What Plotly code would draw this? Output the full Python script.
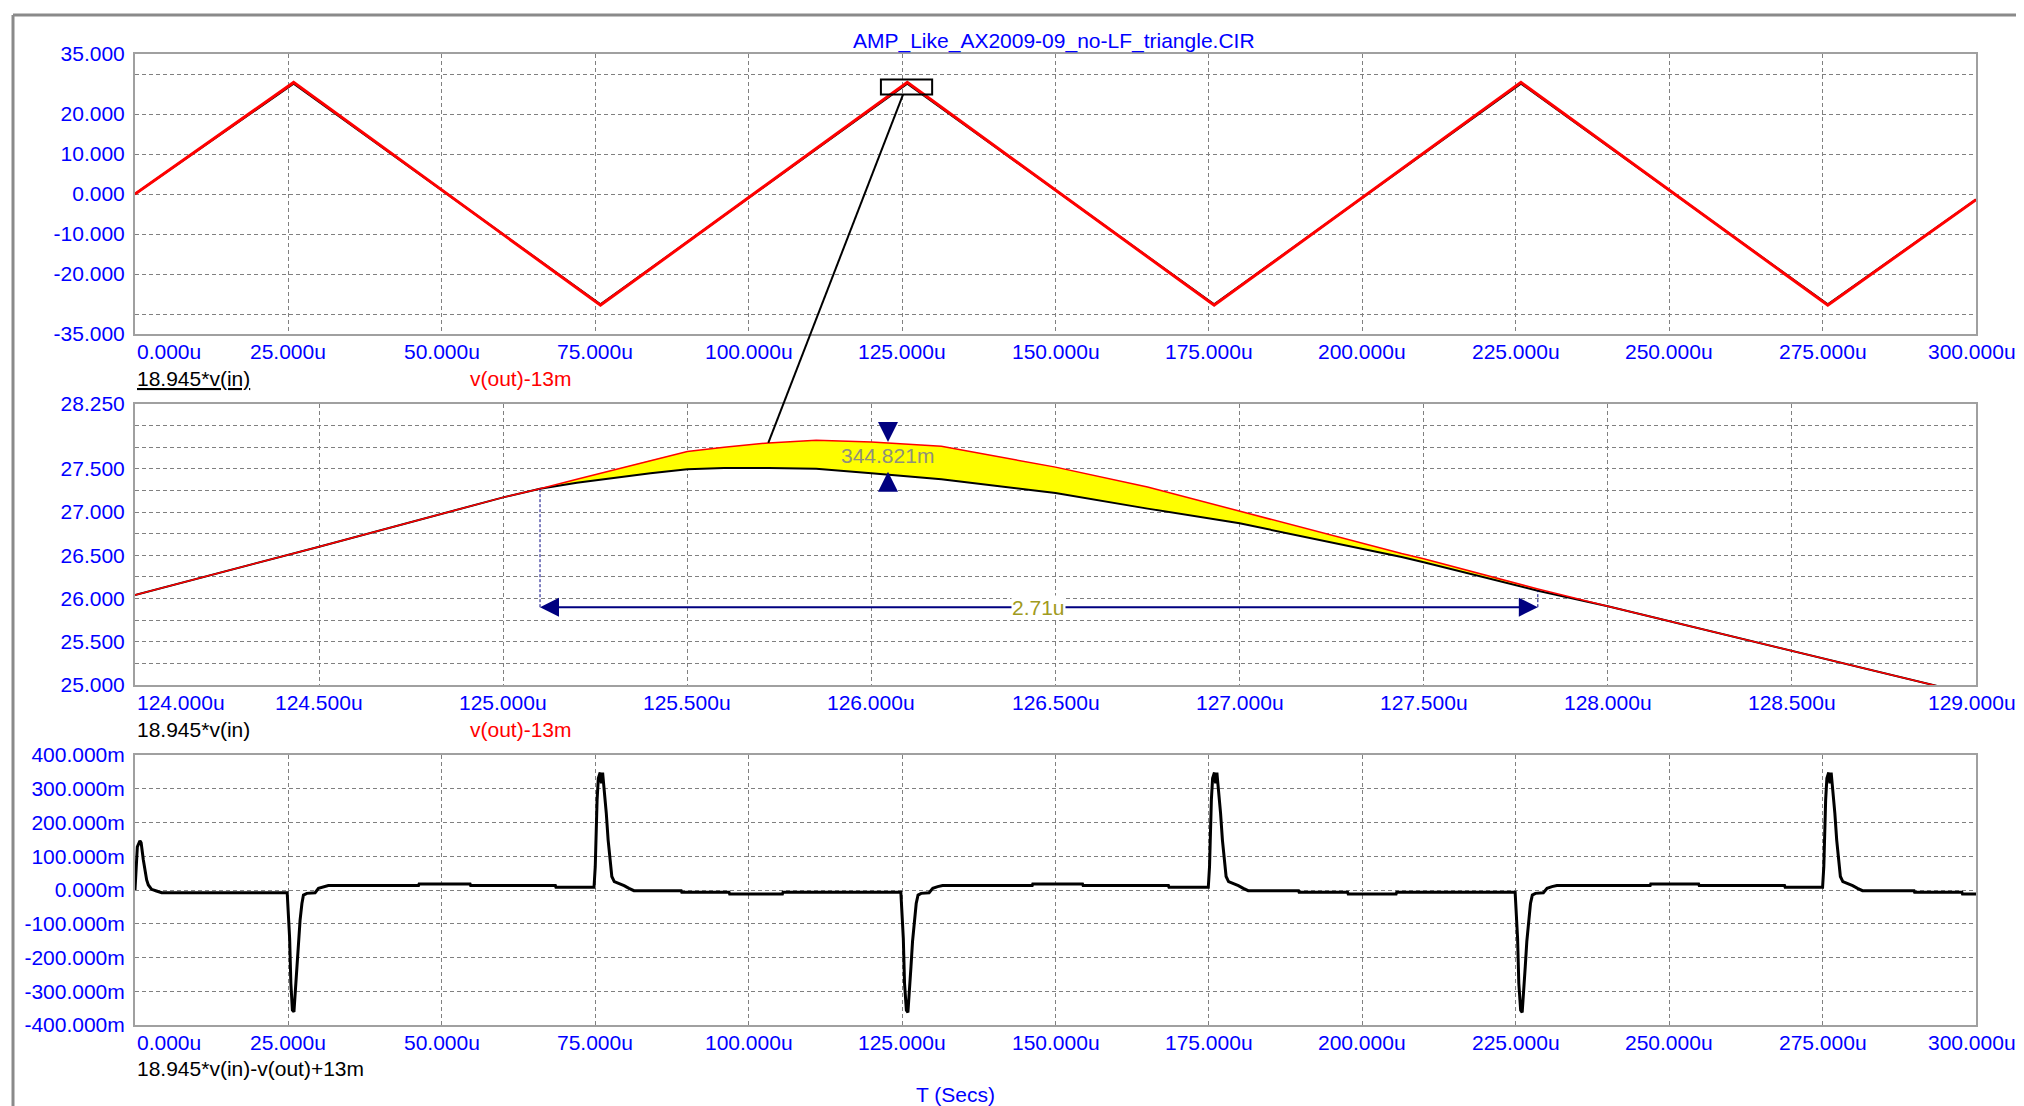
"""
plot.py - rebuild of a SPICE transient plot (triangle drive, error signal) with Plotly.
"""
import plotly.graph_objects as go

# ---------------- values read off the capture (time in us) ----------------
# top pane: 18.945*v(in) and v(out)-13m, 0..300u
TOP_T = [0, 25.85, 75.85, 125.85, 175.85, 225.85, 275.85, 300]
TOP_VIN = [0, 27.6, -27.6, 27.6, -27.6, 27.6, -27.6, -1.4]
TOP_VOUT = [0, 27.9, -27.8, 27.9, -27.8, 27.9, -27.8, -1.4]

# middle pane: zoom on the peak near 125u
MID_T = [124.0, 124.5, 125.0, 125.1, 125.2, 125.33, 125.4, 125.5, 125.6, 125.72, 125.85,
         126.0, 126.19, 126.5, 126.75, 127.0, 127.23, 127.44, 127.5, 127.81, 128.0,
         128.5, 128.886, 129.0]
MID_VIN = [26.04, 26.60, 27.17, 27.27, 27.34, 27.41, 27.45, 27.495, 27.51, 27.51, 27.50,
           27.45, 27.38, 27.22, 27.04, 26.87, 26.67, 26.48, 26.42, 26.09, 25.91,
           25.40, 25.0, 24.88]
MID_VOUT = [26.04, 26.60, 27.17, 27.27, 27.38, 27.52, 27.60, 27.70, 27.75, 27.80, 27.83,
            27.81, 27.76, 27.52, 27.29, 27.01, 26.75, 26.52, 26.46, 26.11, 25.91,
            25.40, 25.0, 24.88]

# bottom pane: 18.945*v(in)-v(out)+13m, in millivolts
DIFF_T = [
    0, 0.16, 0.38, 0.8, 1.0, 1.36, 1.63, 1.9, 2.17, 2.7, 3.5, 4.35,
    24.8, 25.2, 25.4, 25.65, 25.9, 26.1, 26.35, 26.6, 26.9, 27.2, 27.45, 28.0, 29.35,
    29.9, 30.7, 31.5, 46.2, 46.3, 54.6, 54.7, 68.5, 68.6,
    74.8, 75.0, 75.3, 75.5, 75.8, 76.0, 76.2, 76.5, 76.8, 77.1, 77.4, 77.7, 78.1,
    78.9, 79.7, 80.5, 81.3, 89.0, 89.1, 96.8, 96.9, 105.5, 105.6,
    124.8, 125.2, 125.4, 125.7, 125.95, 126.2, 126.45, 126.7, 127.0, 127.3, 127.6, 128.1,
    129.4, 130.0, 130.8, 131.6, 146.2, 146.3, 154.4, 154.5, 168.4, 168.5,
    174.9, 175.1, 175.4, 175.6, 175.9, 176.1, 176.3, 176.6, 176.9, 177.2, 177.5, 177.8,
    178.2, 179.0, 179.8, 180.6, 181.4, 189.6, 189.7, 197.6, 197.7, 205.5, 205.6,
    224.9, 225.3, 225.5, 225.8, 226.05, 226.3, 226.55, 226.8, 227.1, 227.4, 227.7, 228.2,
    229.5, 230.1, 230.9, 231.7, 246.9, 247.0, 254.8, 254.9, 268.8, 268.9,
    275.0, 275.2, 275.5, 275.7, 276.0, 276.2, 276.4, 276.7, 277.0, 277.3, 277.6, 277.9,
    278.3, 279.1, 279.9, 280.7, 281.5, 289.9, 290.0, 297.7, 297.8, 300.0,
]
DIFF_MV = [
    0, 69, 128, 146, 140, 89, 54, 30, 15, 2, -3, -8,
    -8, -143, -277, -356, -361, -306, -227, -153, -89, -40, -15, -10, -8,
    5, 10, 13, 13, 18, 18, 13, 13, 8,
    8, 69, 267, 331, 348, 316, 348, 296, 227, 148, 89, 40, 25,
    20, 13, 5, -2, -2, -7, -7, -12, -12, -7,
    -7, -143, -277, -356, -363, -306, -227, -153, -89, -40, -15, -10,
    -8, 5, 10, 13, 13, 18, 18, 13, 13, 8,
    8, 69, 267, 331, 348, 316, 348, 296, 227, 148, 89, 40,
    25, 20, 13, 5, -2, -2, -7, -7, -12, -12, -7,
    -7, -143, -277, -356, -363, -306, -227, -153, -89, -40, -15, -10,
    -8, 5, 10, 13, 13, 18, 18, 13, 13, 8,
    8, 69, 267, 331, 348, 316, 348, 296, 227, 148, 89, 40,
    25, 20, 13, 5, -2, -2, -7, -7, -12, -12,
]

# ticks / grid
T_TICKS = [0, 25, 50, 75, 100, 125, 150, 175, 200, 225, 250, 275, 300]
MID_T_TICKS = [124.0, 124.5, 125.0, 125.5, 126.0, 126.5, 127.0, 127.5, 128.0, 128.5, 129.0]
TOP_V_GRID = [-35, -30, -20, -10, 0, 10, 20, 30, 35]
TOP_V_LABELS = ["-35.000", "", "-20.000", "-10.000", "0.000", "10.000", "20.000", "", "35.000"]
MID_V_GRID = [25.0, 25.25, 25.5, 25.75, 26.0, 26.25, 26.5, 26.75, 27.0, 27.25, 27.5, 27.75, 28.0, 28.25]
MID_V_LABELS = ["25.000", "", "25.500", "", "26.000", "", "26.500", "", "27.000", "",
                "27.500", "", "", "28.250"]
DIFF_GRID = [-400, -300, -200, -100, 0, 100, 200, 300, 400]
DIFF_LABELS = ["-400.000m", "-300.000m", "-200.000m", "-100.000m", "0.000m",
               "100.000m", "200.000m", "300.000m", "400.000m"]

# cursor measurements shown in the middle pane
DIM_SPAN = [125.1, 127.81]
DIM_LEVEL = 25.9
DIM_TEXT = "2.71u"
MEAS_T = 126.045
MEAS_HI = 27.81
MEAS_LO = 27.465
MEAS_MID = 27.65
MEAS_TEXT = "344.821m"

# zoom box drawn in the top pane
ZOOM_BOX_T = [121.55, 129.9]
ZOOM_BOX_V = [24.85, 28.6]
LEADER_FROM = (125.15, 24.85)   # top pane coords
LEADER_TO = (125.72, 27.80)     # middle pane coords

TITLE = "AMP_Like_AX2009-09_no-LF_triangle.CIR"

# ---------------- layout geometry ----------------
# the page body has an 8px margin, so the figure is drawn 8px smaller and all
# screen positions below are shifted by OFF
OFF = 8
SCREEN_W, SCREEN_H = 2024, 1106
W, H = SCREEN_W - OFF, SCREEN_H - OFF
PLOT_L, PLOT_R = 135, 1976          # screen px
PLOT_T, PLOT_B = 54, 1025
ML, MT = PLOT_L - OFF, PLOT_T - OFF
MR, MB = W - (PLOT_R - OFF), H - (PLOT_B - OFF)
PW = W - ML - MR
PH = H - MT - MB

FONT = "Arial, Liberation Sans, sans-serif"
FS = 21
BLUE = "#0000ff"
RED = "#ff0000"
NAVY = "#000080"
GRID = "#808080"
BOX = "#a0a0a0"


def px(xs, ys):
    """screen pixel -> paper coords"""
    return (xs - PLOT_L) / PW, (PLOT_B - ys) / PH


def ydom(top_px, bot_px):
    return [px(0, bot_px)[1], px(0, top_px)[1]]


TOP_DOM = ydom(54, 334)
MID_DOM = ydom(404, 685)
BOT_DOM = ydom(755, 1025)
TOP_XR, TOP_YR = [0, 300], [-35, 35]
MID_XR, MID_YR = [124, 129], [25, 28.25]
BOT_XR, BOT_YR = [0, 300], [-400, 400]


def data_to_paper(x, y, xr, yr, dom):
    return ((x - xr[0]) / (xr[1] - xr[0]),
            dom[0] + (y - yr[0]) / (yr[1] - yr[0]) * (dom[1] - dom[0]))


fig = go.Figure()

# top pane
fig.add_trace(go.Scatter(x=TOP_T, y=TOP_VIN, mode="lines", line=dict(color="black", width=2),
                         xaxis="x", yaxis="y"))
fig.add_trace(go.Scatter(x=TOP_T, y=TOP_VOUT, mode="lines", line=dict(color=RED, width=3),
                         xaxis="x", yaxis="y"))

# middle pane: yellow band between the cursors, then both curves
band = [i for i, t in enumerate(MID_T) if DIM_SPAN[0] <= t <= DIM_SPAN[1]]
fig.add_trace(go.Scatter(x=[MID_T[i] for i in band], y=[MID_VIN[i] for i in band], mode="lines",
                         line=dict(width=0, color="black"), xaxis="x2", yaxis="y2"))
fig.add_trace(go.Scatter(x=[MID_T[i] for i in band], y=[MID_VOUT[i] for i in band], mode="lines",
                         line=dict(width=0, color=RED), fill="tonexty", fillcolor="#ffff00",
                         xaxis="x2", yaxis="y2"))
fig.add_trace(go.Scatter(x=MID_T, y=MID_VIN, mode="lines", line=dict(color="black", width=2),
                         xaxis="x2", yaxis="y2"))
fig.add_trace(go.Scatter(x=MID_T, y=MID_VOUT, mode="lines", line=dict(color=RED, width=1.5),
                         xaxis="x2", yaxis="y2"))

# bottom pane
fig.add_trace(go.Scatter(x=DIFF_T, y=DIFF_MV, mode="lines", line=dict(color="black", width=3),
                         xaxis="x3", yaxis="y3"))


def xaxis(rng, ticks, anchor):
    return dict(range=rng, tickvals=ticks, showticklabels=False, ticks="",
                showgrid=True, gridcolor=GRID, gridwidth=1, griddash="4px,3px",
                zeroline=False, showline=True, mirror=True, linecolor=BOX, linewidth=2,
                anchor=anchor, domain=[0, 1])


def yaxis(rng, ticks, labels, dom, anchor):
    return dict(range=rng, tickvals=ticks, ticktext=labels, ticks="",
                tickfont=dict(family=FONT, size=FS, color=BLUE), ticklabelstandoff=4,
                showgrid=True, gridcolor=GRID, gridwidth=1, griddash="4px,3px",
                zeroline=False, showline=True, mirror=True, linecolor=BOX, linewidth=2,
                anchor=anchor, domain=dom)


annotations = []


def xlabels(ticks, fmt, xref, dom):
    last = len(ticks) - 1
    for i, v in enumerate(ticks):
        annotations.append(dict(
            x=v, xref=xref, y=dom[0], yref="paper", text=fmt.format(v),
            xanchor="left" if i == 0 else "center", yanchor="top", yshift=-4,
            xshift=-4 if i == last else 0,
            showarrow=False, font=dict(family=FONT, size=FS, color=BLUE)))


xlabels(T_TICKS, "{:.3f}u", "x", TOP_DOM)
xlabels(MID_T_TICKS, "{:.3f}u", "x2", MID_DOM)
xlabels(T_TICKS, "{:.3f}u", "x3", BOT_DOM)


def label(text, xs, ys, color, anchor="left"):
    ax, ay = px(xs, ys)
    annotations.append(dict(x=ax, y=ay, xref="paper", yref="paper", text=text,
                            xanchor=anchor, yanchor="middle", showarrow=False,
                            font=dict(family=FONT, size=FS, color=color)))


label(TITLE, 1054, 41, BLUE, "center")
label('<span style="text-decoration:underline">18.945*v(in)</span>', 135, 378, "black")
label("v(out)-13m", 468, 378, RED)
label("18.945*v(in)", 135, 729, "black")
label("v(out)-13m", 468, 729, RED)
label("18.945*v(in)-v(out)+13m", 135, 1068, "black")
label("T (Secs)", 955, 1094, BLUE, "center")

# horizontal cursor dimension
dim_mid = (DIM_SPAN[0] + DIM_SPAN[1]) / 2
for end in DIM_SPAN:
    annotations.append(dict(x=end, y=DIM_LEVEL, xref="x2", yref="y2",
                            ax=dim_mid, ay=DIM_LEVEL, axref="x2", ayref="y2",
                            text="", showarrow=True, arrowhead=2, arrowsize=1.9,
                            arrowwidth=2, arrowcolor=NAVY, standoff=0))
annotations.append(dict(x=dim_mid, y=DIM_LEVEL, xref="x2", yref="y2", text=DIM_TEXT,
                        showarrow=False, bgcolor="white", borderpad=0,
                        font=dict(family=FONT, size=FS, color="#a09a20")))

# vertical cursor dimension
annotations.append(dict(x=MEAS_T, y=MEAS_HI, xref="x2", yref="y2", ax=0, ay=-15,
                        text="", showarrow=True, arrowhead=2, arrowsize=2.0,
                        arrowwidth=2, arrowcolor=NAVY, standoff=0))
annotations.append(dict(x=MEAS_T, y=MEAS_LO, xref="x2", yref="y2", ax=0, ay=15,
                        text="", showarrow=True, arrowhead=2, arrowsize=2.0,
                        arrowwidth=2, arrowcolor=NAVY, standoff=0))
annotations.append(dict(x=MEAS_T, y=MEAS_MID, xref="x2", yref="y2", text=MEAS_TEXT,
                        showarrow=False, font=dict(family=FONT, size=FS, color="#8f8f7c")))

shapes = []
# cursor drop lines
shapes.append(dict(type="line", xref="x2", yref="y2", x0=DIM_SPAN[0], x1=DIM_SPAN[0],
                   y0=DIM_LEVEL, y1=MID_VIN[MID_T.index(DIM_SPAN[0])],
                   line=dict(color=NAVY, width=1, dash="3px,2px")))
shapes.append(dict(type="line", xref="x2", yref="y2", x0=DIM_SPAN[1], x1=DIM_SPAN[1],
                   y0=DIM_LEVEL, y1=MID_VIN[MID_T.index(DIM_SPAN[1])],
                   line=dict(color=NAVY, width=1, dash="3px,2px")))
# zoom box and leader
shapes.append(dict(type="rect", xref="x", yref="y", x0=ZOOM_BOX_T[0], x1=ZOOM_BOX_T[1],
                   y0=ZOOM_BOX_V[0], y1=ZOOM_BOX_V[1], line=dict(color="black", width=2)))
lx0, ly0 = data_to_paper(*LEADER_FROM, TOP_XR, TOP_YR, TOP_DOM)
lx1, ly1 = data_to_paper(*LEADER_TO, MID_XR, MID_YR, MID_DOM)
shapes.append(dict(type="line", xref="paper", yref="paper", x0=lx0, y0=ly0, x1=lx1, y1=ly1,
                   line=dict(color="black", width=2)))
# window frame (top and left edges only are visible)
fx0, fy0 = px(13, 15)
fx1, fy1 = px(SCREEN_W + 10, SCREEN_H + 10)
shapes.append(dict(type="line", xref="paper", yref="paper", x0=fx0, y0=fy0, x1=fx1, y1=fy0,
                   line=dict(color="#8a8a8a", width=3)))
shapes.append(dict(type="line", xref="paper", yref="paper", x0=fx0, y0=fy0, x1=fx0, y1=fy1,
                   line=dict(color="#8a8a8a", width=3)))

fig.update_layout(
    width=W, height=H,
    margin=dict(l=ML, r=MR, t=MT, b=MB, pad=0),
    paper_bgcolor="white", plot_bgcolor="white",
    showlegend=False, hovermode=False,
    font=dict(family=FONT, size=FS, color=BLUE),
    xaxis=xaxis(TOP_XR, T_TICKS, "y"),
    yaxis=yaxis(TOP_YR, TOP_V_GRID, TOP_V_LABELS, TOP_DOM, "x"),
    xaxis2=xaxis(MID_XR, MID_T_TICKS, "y2"),
    yaxis2=yaxis(MID_YR, MID_V_GRID, MID_V_LABELS, MID_DOM, "x2"),
    xaxis3=xaxis(BOT_XR, T_TICKS, "y3"),
    yaxis3=yaxis(BOT_YR, DIFF_GRID, DIFF_LABELS, BOT_DOM, "x3"),
    annotations=annotations,
    shapes=shapes,
)

fig.write_html("out.html")
